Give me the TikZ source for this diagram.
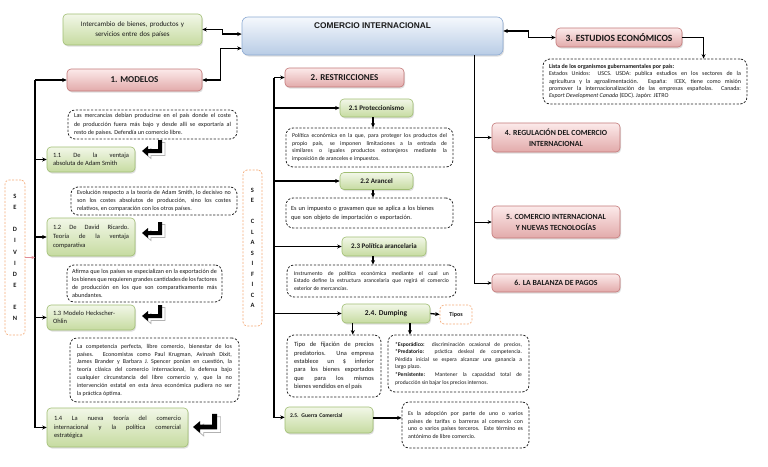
\documentclass[tikz,border=0pt]{standalone}
\usepackage{fontspec}
\setmainfont{Carlito}
\newfontfamily\arialf{Liberation Sans}
\usetikzlibrary{arrows.meta,shadows,calc}
\definecolor{gtop}{RGB}{242,247,232}
\definecolor{gbot}{RGB}{198,219,160}
\definecolor{gbrd}{RGB}{160,190,115}
\definecolor{ptop}{RGB}{252,234,234}
\definecolor{pbot}{RGB}{226,170,170}
\definecolor{pbrd}{RGB}{195,120,120}
\definecolor{btop}{RGB}{245,248,253}
\definecolor{bbot}{RGB}{184,204,229}
\definecolor{bbrd}{RGB}{140,170,210}
\definecolor{orng}{RGB}{244,170,120}
\definecolor{txt}{RGB}{25,25,25}
\definecolor{pinkar}{RGB}{225,140,150}
\newcommand\myfs[2]{\fontsize{#1}{#2}\selectfont\tolerance=10000\hyphenpenalty=10000\exhyphenpenalty=10000\relax}
\tikzset{
  shad/.style={drop shadow={opacity=0.25,shadow xshift=1pt,shadow yshift=-1.5pt}},
  gbox/.style={draw=gbrd, line width=0.6pt, rounded corners=4pt, top color=gtop, bottom color=gbot, shad, inner sep=0pt, text=txt},
  pbox/.style={draw=pbrd, line width=0.6pt, rounded corners=4pt, top color=ptop, bottom color=pbot, shad, inner sep=0pt, text=txt, font=\bfseries\myfs{9}{10}, align=center},
  bbox/.style={draw=bbrd, line width=0.6pt, rounded corners=6pt, top color=btop, bottom color=bbot, shad, inner sep=0pt},
  dbox/.style={draw=black!85, dash pattern=on 2.2pt off 1.6pt, line width=0.8pt, rounded corners=7pt, fill=white, inner sep=0pt, text=txt, align=justify, font=\myfs{6.1}{8.2}},
  obox/.style={draw=orng, dash pattern=on 2pt off 1.5pt, line width=0.7pt, rounded corners=4pt, fill=white, inner sep=0pt, text=txt},
  ar/.style={-{Stealth[length=4.5pt,width=4pt]}, line width=1.3pt},
  dar/.style={{Stealth[length=4.5pt,width=4pt]}-{Stealth[length=4.5pt,width=4pt]}, line width=1.3pt},
  tar/.style={-{Stealth[length=4pt,width=3.5pt]}, line width=0.8pt},
  bentarrow/.pic={
    \filldraw[fill=white, draw=gray!60, line width=0.7pt, shift={(3,2.5)}] (0,0) -- (6,-5) -- (6,-2) -- (16,-2) -- (16,-11) -- (20,-11) -- (20,2) -- (6,2) -- (6,5) -- cycle;
    \fill[black] (0,0) -- (6,-5) -- (6,-2) -- (16,-2) -- (16,-11) -- (20,-11) -- (20,2) -- (6,2) -- (6,5) -- cycle;
  }
}
\begin{document}
\begin{tikzpicture}[x=1pt,y=-1pt]
\useasboundingbox (0,0) rectangle (768,466);
\fill[white] (0,0) rectangle (768,466);

% ---------- top ----------
\node[gbox, minimum width=139pt, minimum height=31pt, text width=132pt, align=center, font=\myfs{7}{9.5}] (inter) at (132.5,29.5) {Intercambio de bienes, productos y\\ servicios entre dos países};
\node[bbox, minimum width=261pt, minimum height=38pt] (com) at (372.5,36) {};
\node[font=\arialf\bfseries\fontsize{8.3}{9}\selectfont, text=txt, inner sep=0pt] (comt) at (372.5,26) {COMERCIO INTERNACIONAL};

% ---------- column 1 ----------
\node[pbox, minimum width=135pt, minimum height=22pt] (mod) at (134.5,80) {1. MODELOS};
\node[dbox, minimum width=169pt, minimum height=29pt, text width=157pt] (d1) at (152.5,124.5) {Las mercancías debían producirse en el país donde el coste\linebreak de producción fuera más bajo y desde allí se exportaría al\linebreak resto de países. Defendía un comercio libre.};
\node[gbox, minimum width=88pt, minimum height=25pt, text width=76pt, align=justify, font=\myfs{6.5}{8.3}] (m11) at (91,159.5) {1.1 De la ventaja\linebreak absoluta de Adam Smith};
\node[dbox, minimum width=166pt, minimum height=28pt, text width=154pt] (d2) at (154,201) {Evolución respecto a la teoría de Adam Smith, lo decisivo no\linebreak son los costes absolutos de producción, sino los costes\linebreak relativos, en comparación con los otros países.};
\node[gbox, minimum width=88pt, minimum height=38pt, text width=76pt, align=justify, font=\myfs{6.5}{9}] (m12) at (91,237) {1.2 De David Ricardo.\linebreak Teoría de la ventaja\linebreak comparativa};
\node[dbox, minimum width=155pt, minimum height=37pt, text width=145pt] (d3) at (144.5,283.5) {Afirma que los países se especializan en la exportación de\linebreak los bienes que requieren grandes cantidades de los factores\linebreak de producción en los que son comparativamente más\linebreak abundantes.};
\node[gbox, minimum width=88pt, minimum height=25pt, text width=76pt, align=left, font=\myfs{6.5}{8.3}] (m13) at (91,317.5) {1.3 Modelo Heckscher-\\Ohlin};
\node[dbox, minimum width=169pt, minimum height=64pt, text width=155pt, font=\myfs{6}{7.8}] (d4) at (154.5,370) {La competencia perfecta, libre comercio, bienestar de los\linebreak países. Economistas como Paul Krugman, Avinash Dixit,\linebreak James Brander y Barbara J. Spencer ponían en cuestión, la\linebreak teoría clásica del comercio internacional, la defensa bajo\linebreak cualquier circunstancia del libre comercio y, que la no\linebreak intervención estatal en esta área económica pudiera no ser\linebreak la práctica óptima.};
\node[gbox, minimum width=141pt, minimum height=39pt, text width=127pt, align=justify, font=\myfs{6.5}{8.7}] (m14) at (117.5,427.5) {1.4 La nueva teoría del comercio\linebreak internacional y la política comercial\linebreak estratégica};

\pic (ba1) at (142,151) {bentarrow};
\pic (ba2) at (142,233) {bentarrow};
\pic (ba3) at (142,316) {bentarrow};
\pic[scale=1.2] (ba4) at (193,427) {bentarrow};

\node[obox, minimum width=20pt, minimum height=155pt, align=center, font=\bfseries\myfs{6.5}{11.1}] (sed) at (15,257.5) {S\\E\\~\\D\\I\\V\\I\\D\\E\\~\\E\\N};
\node[obox, minimum width=19pt, minimum height=156pt, align=center, font=\bfseries\myfs{6.5}{10.5}] (sec) at (252.5,248) {S\\E\\~\\C\\L\\A\\S\\I\\F\\I\\C\\A};

% ---------- column 2 ----------
\node[pbox, minimum width=119pt, minimum height=19pt] (res) at (344.5,77.5) {2. RESTRICCIONES};
\node[gbox, minimum width=73pt, minimum height=18pt, font=\bfseries\myfs{7}{8}] (p21) at (376.5,108) {2.1 Proteccionismo};
\node[dbox, minimum width=167pt, minimum height=39pt, text width=155pt, font=\myfs{5.8}{7.6}] (dp1) at (369.5,147.5) {Política económica en la que, para proteger los productos del\linebreak propio país, se imponen limitaciones a la entrada de\linebreak similares o iguales productos extranjeros mediante la\linebreak imposición de aranceles e impuestos.};
\node[gbox, minimum width=73pt, minimum height=17pt, font=\bfseries\myfs{7}{8}] (p22) at (376.5,181) {2.2 Arancel};
\node[dbox, minimum width=167pt, minimum height=30pt, text width=157pt, align=left, font=\myfs{6.3}{8.7}] (dp2) at (369.5,213) {Es un impuesto o gravamen que se aplica a los bienes\\que son objeto de importación o exportación.};
\node[gbox, minimum width=84pt, minimum height=19pt, font=\bfseries\myfs{7}{8}] (p23) at (384,246.5) {2.3 Política arancelaria};
\node[dbox, minimum width=169pt, minimum height=32pt, text width=155pt, font=\myfs{5.7}{7.6}] (dp3) at (371.5,281) {Instrumento de política económica mediante el cual un\linebreak Estado define la estructura arancelaria que regirá el comercio\linebreak exterior de mercancías.};
\node[gbox, minimum width=88pt, minimum height=19pt, font=\bfseries\myfs{7.5}{8}] (p24) at (386,313.5) {2.4. Dumping};
\node[obox, minimum width=32pt, minimum height=19pt, font=\bfseries\myfs{6}{7}] (tipos) at (456,314.5) {Tipos};
\node[dbox, minimum width=94pt, minimum height=62pt, text width=80pt, font=\myfs{6.4}{8.3}] (dp4) at (334,366) {Tipo de fijación de precios\linebreak predatorios. Una empresa\linebreak establece un \$ inferior\linebreak para los bienes exportados\linebreak que para los mismos\linebreak bienes vendidos en el país};
\node[dbox, minimum width=141pt, minimum height=57pt, text width=127pt, font=\myfs{5.6}{7.6}] (dp5) at (458.5,363.5) {\textbf{*Esporádico:} discriminación ocasional de precios,\linebreak \textbf{*Predatorio:} práctica desleal de competencia.\linebreak Pérdida inicial se espera alcanzar una ganancia a\linebreak largo plazo.\\ \textbf{*Persistente:} Mantener la capacidad total de\linebreak producción sin bajar los precios internos.};
\node[gbox, minimum width=88pt, minimum height=26pt, text width=78pt, align=left, font=\bfseries\myfs{5.6}{7}] (p25) at (329,420) {2.5. Guerra Comercial\\[2pt]~};
\node[dbox, minimum width=127pt, minimum height=46pt, text width=115pt, font=\myfs{5.9}{7.8}] (dp6) at (465.5,425) {Es la adopción por parte de uno o varios\linebreak países de tarifas o barreras al comercio con\linebreak uno o varios países terceros. Este término es\linebreak antónimo de libre comercio.};

% ---------- column 3 ----------
\node[pbox, minimum width=126pt, minimum height=19pt, font=\bfseries\myfs{9.5}{10}] (est) at (619,37.5) {3. ESTUDIOS ECONÓMICOS};
\node[dbox, minimum width=204pt, minimum height=45pt, text width=192pt, font=\myfs{6}{7.3}] (dl) at (645,81.5) {\textbf{Lista de los organismos gubernamentales por país:}\\ Estados Unidos: USCS. USDA: publica estudios en los sectores de la\linebreak agricultura y la agroalimentación. España: ICEX, tiene como misión\linebreak promover la internacionalización de las empresas españolas.\ \ Canada:\linebreak \textit{Export Development Canada} (EDC). Japón: JETRO};
\node[pbox, minimum width=128pt, minimum height=29pt, font=\bfseries\myfs{7.8}{11}] (r4) at (556,137.5) {4. REGULACIÓN DEL COMERCIO\\INTERNACIONAL};
\node[pbox, minimum width=128pt, minimum height=32pt, font=\bfseries\myfs{7.8}{11}] (r5) at (556,222) {5. COMERCIO INTERNACIONAL\\Y NUEVAS TECNOLOGÍAS};
\node[pbox, minimum width=128pt, minimum height=18pt, font=\bfseries\myfs{7.8}{9}] (r6) at (556,283) {6. LA BALANZA DE PAGOS};

% ---------- connectors ----------
\draw[dar] (inter.east) -- ++(20,0) |- ($(com.north west)!0.45!(com.south west)$);
\draw[dar] (mod.east) -- ++(18,0) |- ($(com.north west)!0.82!(com.south west)$);
\draw[dar] ($(com.north east)!0.37!(com.south east)$) -- ++(25,0) |- (est.west);
\draw[ar] (est.east) -| ($(dl.north west)!0.786!(dl.north east)$);

\coordinate (lv) at (35,80);
\draw[ar] (lv) -- (mod.west);
\draw[ar] (lv) |- (m14.west);
\draw[ar] (lv|-m11.west) -- (m11.west);
\draw[ar] (lv|-m12.west) -- (m12.west);
\draw[ar] (lv|-m13.west) -- (m13.west);
\draw[-{Stealth[length=3.5pt,width=3pt]}, line width=0.8pt, pinkar] (sed.east) -- (sed.east-|lv);

\coordinate (rv) at (274,77.5);
\draw[ar] (rv) -- (res.west);
\draw[ar] (rv) |- ($(p25.north west)!0.4!(p25.south west)$);
\draw[ar] (rv|-p21.west) -- (p21.west);
\draw[ar] (rv|-p22.west) -- (p22.west);
\draw[ar] (rv|-p23.west) -- (p23.west);
\draw[ar] (rv|-p24.west) -- (p24.west);
\draw[ar] (p21.south-|373,0) -- (dp1.north-|373,0);
\draw[ar] (p22.south-|373,0) -- (dp2.north-|373,0);
\draw[ar] (p23.south-|373,0) -- (dp3.north-|373,0);
\draw[ar] (p24.east) -- (tipos.west);
\coordinate (dA) at ($(p24.south west)!0.125!(p24.south east)$);
\coordinate (dB) at ($(p24.south west)!0.77!(p24.south east)$);
\draw[ar] (dA) -- (dA|-dp4.north);
\draw[ar] (dB) -- (dB|-dp5.north);
\coordinate (gA) at ($(p25.north east)!0.42!(p25.south east)$);
\draw[ar] (gA) -- (gA-|dp6.west);

\coordinate (cv) at ($(com.south west)!0.89!(com.south east)$);
\draw[tar] (cv) |- (r6.west);
\draw[tar] (cv|-r4.west) -- (r4.west);
\draw[tar] (cv|-r5.west) -- (r5.west);
\end{tikzpicture}
\end{document}
